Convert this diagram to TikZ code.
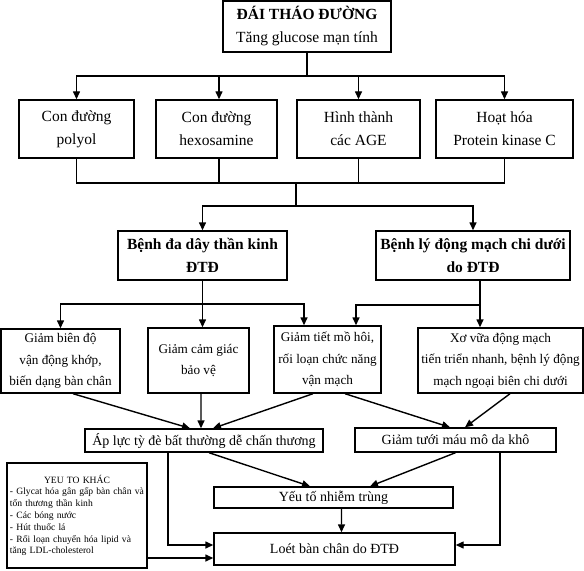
\documentclass[tikz,border=0pt]{standalone}
\usepackage{fontspec}
\setmainfont{Liberation Serif}
\usetikzlibrary{arrows.meta}
\tikzset{
	box/.style={draw, line width=1.4bp, inner sep=0pt, align=center},
	bigtxt/.style={font=\fontsize{15.5bp}{23bp}\selectfont},
	midtxt/.style={font=\fontsize{14bp}{20bp}\selectfont},
	smalltxt/.style={font=\fontsize{13.2bp}{21.5bp}\selectfont},
	notetxt/.style={font=\fontsize{9.6bp}{11.8bp}\selectfont},
	link/.style={line width=1.4bp},
	arr/.style={line width=1.4bp, -{Triangle[length=8bp,width=7bp]}}
}
\begin{document}
\begin{tikzpicture}[x=1bp, y=-1bp]
			\useasboundingbox (0,0) rectangle (584,571);
			
			\node[box, bigtxt, minimum width=168bp, minimum height=51bp] (dtd) at (307,26.5) {\textbf{ĐÁI THÁO ĐƯỜNG}\\Tăng glucose mạn tính};
			
			\node[box, bigtxt, minimum width=115bp, minimum height=58bp] (polyol) at (76.5,129) {Con đường\\polyol};
			\node[box, bigtxt, minimum width=121bp, minimum height=58bp] (hexo) at (216.5,129) {Con đường\\hexosamine};
			\node[box, bigtxt, minimum width=123bp, minimum height=58bp] (age) at (358.5,129) {Hình thành\\các AGE};
			\node[box, bigtxt, minimum width=137bp, minimum height=58bp] (pkc) at (504.5,129) {Hoạt hóa\\Protein kinase C};
			
			\node[box, bigtxt, minimum width=169bp, minimum height=49bp] (neuro) at (202.5,255.5) {\textbf{Bệnh đa dây thần kinh}\\\textbf{ĐTĐ}};
			\node[box, bigtxt, minimum width=194bp, minimum height=49bp] (pad) at (473,255.5) {\textbf{Bệnh lý động mạch chi dưới}\\\textbf{do ĐTĐ}};
			
			\node[box, smalltxt, minimum width=119bp, minimum height=64bp] (joint) at (60.5,361) {Giảm biên độ\\vận động khớp,\\biến dạng bàn chân};
			\node[box, smalltxt, minimum width=101bp, minimum height=65bp] (sens) at (198.5,360.5) {Giảm cảm giác\\bảo vệ};
			\node[box, smalltxt, minimum width=107bp, minimum height=67bp] (sweat) at (327.5,359.5) {Giảm tiết mồ hôi,\\rối loạn chức năng\\vận mạch};
			\node[box, smalltxt, minimum width=165bp, minimum height=65bp] (athero) at (500.5,360.5) {Xơ vữa động mạch\\tiến triển nhanh, bệnh lý động\\mạch ngoại biên chi dưới};
			
			\node[box, midtxt, minimum width=238bp, minimum height=23bp] (press) at (204,440.5) {Áp lực tỳ đè bất thường dễ chấn thương};
			\node[box, midtxt, minimum width=201bp, minimum height=24bp] (perf) at (455.5,440) {Giảm tưới máu mô da khô};
			
			\node[box, midtxt, minimum width=239bp, minimum height=21bp] (infect) at (333.5,497.5) {Yếu tố nhiễm trùng};
			\node[box, midtxt, minimum width=241bp, minimum height=32bp] (ulcer) at (334.5,549) {Loét bàn chân do ĐTĐ};
			
			\node[box, notetxt, text width=134bp, inner xsep=3bp, align=left, minimum height=105bp] (other) at (77,515.5) {{\centering YEU TO KHÁC\par}- Glycat hóa gân gấp bàn chân và\\tổn thương thần kinh\\- Các bóng nước\\- Hút thuốc lá\\- Rối loạn chuyển hóa lipid và\\tăng LDL-cholesterol};
			
			\coordinate (j1) at (307,76);
			\coordinate (j2) at (296,183);
			\coordinate (j3) at (296,206);
			\coordinate (j4) at (202.5,304);
			\coordinate (j5) at (480,305);
			\coordinate (u1) at ([yshift=4bp]ulcer.west);
			\coordinate (u2) at ([yshift=-9bp]ulcer.west);
			\coordinate (u3) at ([yshift=4bp]ulcer.east);
			
			\draw[link] (dtd.south) -- (j1);
			\draw[arr] (j1) -| (polyol.north);
			\draw[arr] (j1) -| ([xshift=2.5bp]hexo.north);
			\draw[arr] (j1) -| (age.north);
			\draw[arr] (j1) -| (pkc.north);
			
			\draw[link] (polyol.south) |- (j2);
			\draw[link] ([xshift=2.5bp]hexo.south) |- (j2);
			\draw[link] (age.south) |- (j2);
			\draw[link] (pkc.south) |- (j2);
			\draw[link] (j2) -- (j3);
			\draw[arr] (j3) -| (neuro.north);
			\draw[arr] (j3) -| (pad.north);
			
			\draw[link] (neuro.south) -- (j4);
			\draw[arr] (j4) -| (joint.north);
			\draw[arr] (j4) -- (j4 |- sens.north);
			\draw[arr] (j4) -| ([xshift=-23.5bp]sweat.north);
			
			\draw[link] (pad.south -| j5) -- (j5);
			\draw[arr] (j5) -- (j5 |- athero.north);
			\draw[arr] (j5) -| ([xshift=28.5bp]sweat.north);
			
			\draw[arr] ([xshift=12.5bp]joint.south) -- ([xshift=-14bp]press.north);
			\draw[arr] ([xshift=2.5bp]sens.south) -- ([xshift=-3bp]press.north);
			\draw[arr] ([xshift=-14.5bp]sweat.south) -- ([xshift=9bp]press.north);
			\draw[arr] ([xshift=17.5bp]sweat.south) -- ([xshift=-5.5bp]perf.north);
			\draw[arr] ([xshift=9.5bp]athero.south) -- ([xshift=9.5bp]perf.north);
			
			\draw[arr] ([xshift=5bp]press.south) -- ([xshift=-23.5bp]infect.north);
			\draw[arr] (perf.south) -- ([xshift=36.5bp]infect.north);
			\draw[arr] ([xshift=8bp]infect.south) -- ([xshift=7bp]ulcer.north);
			
			\draw[arr] ([xshift=-36bp]press.south) |- (u1);
			\draw[arr] ([xshift=44.5bp]perf.south) |- (u3);
			\draw[arr] (other.east |- u2) -- (u2);
		\end{tikzpicture}
\end{document}
